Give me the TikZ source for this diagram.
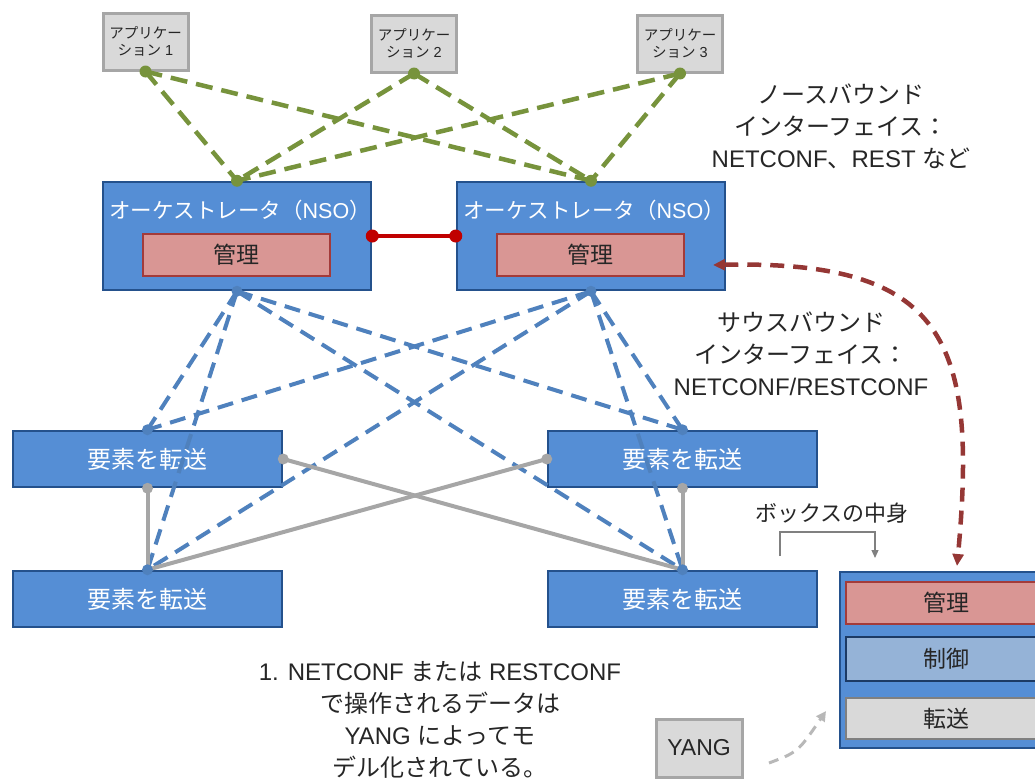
\documentclass[tikz,border=0pt]{standalone}
\usepackage{fontspec}
\setmainfont{Liberation Sans}
\newfontfamily\jpfont{Noto Sans CJK JP}
\newcommand{\ja}[1]{{\jpfont #1}}
\usetikzlibrary{arrows.meta}

\definecolor{boxblue}{HTML}{558ED5}
\definecolor{edgeblue}{HTML}{24518C}
\definecolor{linkblue}{HTML}{4F81BD}
\definecolor{appgreen}{HTML}{77933C}
\definecolor{mgmtfill}{HTML}{D99694}
\definecolor{mgmtedge}{HTML}{A33B3A}
\definecolor{ctrlfill}{HTML}{95B3D7}
\definecolor{ctrledge}{HTML}{1C3A64}
\definecolor{lightfill}{HTML}{D9D9D9}
\definecolor{lightedge}{HTML}{A6A6A6}
\definecolor{wiregray}{HTML}{A6A6A6}
\definecolor{linkred}{HTML}{C00000}
\definecolor{arcred}{HTML}{953735}
\definecolor{inkgray}{HTML}{262626}

\tikzset{
  appbox/.style={draw=lightedge,fill=lightfill,line width=3pt,minimum width=85,minimum height=57,
    inner sep=0,align=center,text=inkgray,font=\fontsize{14.5}{17}\selectfont},
  orchbox/.style={draw=edgeblue,fill=boxblue,line width=2.5pt,minimum width=268,minimum height=108,inner sep=0},
  orchtitle/.style={text=white,inner sep=0,font=\fontsize{21.5}{25}\selectfont},
  mgmtbox/.style={draw=mgmtedge,fill=mgmtfill,line width=2.5pt,minimum width=187,minimum height=42,
    inner sep=0,text=inkgray,font=\fontsize{23}{27}\selectfont},
  fwdbox/.style={draw=edgeblue,fill=boxblue,line width=2.5pt,minimum width=269,minimum height=56,
    inner sep=0,text=white,font=\fontsize{24}{28}\selectfont},
  layerbox/.style={line width=2.5pt,minimum width=200,inner sep=0,text=inkgray,font=\fontsize{23}{27}\selectfont},
  note/.style={align=center,inner sep=0,text=inkgray,font=\fontsize{24}{32}\selectfont},
  northlink/.style={appgreen,line width=4.5pt,dash pattern=on 17pt off 9pt},
  southlink/.style={linkblue,line width=4pt,dash pattern=on 16pt off 9pt},
  wire/.style={wiregray,line width=4pt},
  peerlink/.style={linkred,line width=4pt},
  arcarrow/.style={arcred,line width=4.5pt,dash pattern=on 14pt off 9pt,
    {Triangle[length=12pt,width=11pt]}-{Triangle[length=12pt,width=11pt]}},
}

\begin{document}
\begin{tikzpicture}[x=1pt,y=-1pt]
  \useasboundingbox (0,0) rectangle (1035,779);

  % applications
  \node[appbox] (app1) at (145.5,41.5) {\ja{アプリケー}\\\ja{ション} 1};
  \node[appbox] (app2) at (414,43.5) {\ja{アプリケー}\\\ja{ション} 2};
  \node[appbox] (app3) at (680,43.5) {\ja{アプリケー}\\\ja{ション} 3};

  % orchestrators
  \node[orchbox] (orchL) at (237,236) {};
  \node[orchbox] (orchR) at (591,236) {};
  \node[orchtitle] (titleL) at (240,210) {\ja{オーケストレータ（}NSO\ja{）}};
  \node[orchtitle] (titleR) at (594,210) {\ja{オーケストレータ（}NSO\ja{）}};
  \node[mgmtbox] (mgmtL) at (236.5,255) {\ja{管理}};
  \node[mgmtbox] (mgmtR) at (590.5,255) {\ja{管理}};

  % forwarding elements
  \node[fwdbox] (fwdTL) at (147.5,459) {\ja{要素を転送}};
  \node[fwdbox] (fwdTR) at (682.5,459) {\ja{要素を転送}};
  \node[fwdbox] (fwdBL) at (147.5,599) {\ja{要素を転送}};
  \node[fwdbox] (fwdBR) at (682.5,599) {\ja{要素を転送}};

  % box contents
  \node[draw=edgeblue,fill=boxblue,line width=2.5pt,minimum width=210,minimum height=176] (inside) at (945,660) {};
  \node[layerbox,draw=mgmtedge,fill=mgmtfill,minimum height=42] (layerM) at (946,603) {\ja{管理}};
  \node[layerbox,draw=ctrledge,fill=ctrlfill,minimum height=44] (layerC) at (946,659) {\ja{制御}};
  \node[layerbox,draw=gray,fill=lightfill,minimum height=41] (layerF) at (946,718.5) {\ja{転送}};
  \node[appbox,minimum width=86,minimum height=58,font=\fontsize{23}{27}\selectfont] (yang) at (699,748) {YANG};

  % texts
  \node[note] (northtxt) at (841,126) {\ja{ノースバウンド}\\\ja{インターフェイス：}\\NETCONF\ja{、}REST \ja{など}};
  \node[note] (southtxt) at (801,354) {\ja{サウスバウンド}\\\ja{インターフェイス：}\\NETCONF/RESTCONF};
  \node[note,font=\fontsize{22}{26}\selectfont] (boxtxt) at (832,513) {\ja{ボックスの中身}};
  \node[note] (yangtxt) at (440,720) {1. NETCONF \ja{または} RESTCONF\\\ja{で操作されるデータは}\\YANG \ja{によってモ}\\\ja{デル化されている。}};

  % northbound links
  \draw[northlink] (app1.south) -- (orchL.north);
  \draw[northlink] (app1.south) -- (orchR.north);
  \draw[northlink] (app2.south) -- (orchL.north);
  \draw[northlink] (app2.south) -- (orchR.north);
  \draw[northlink] (app3.south) -- (orchL.north);
  \draw[northlink] (app3.south) -- (orchR.north);

  % southbound links
  \draw[southlink] (orchL.south) -- (fwdTL.north);
  \draw[southlink] (orchL.south) -- (fwdTR.north);
  \draw[southlink] (orchL.south) -- (fwdBL.north);
  \draw[southlink] (orchL.south) -- (fwdBR.north);
  \draw[southlink] (orchR.south) -- (fwdTL.north);
  \draw[southlink] (orchR.south) -- (fwdTR.north);
  \draw[southlink] (orchR.south) -- (fwdBL.north);
  \draw[southlink] (orchR.south) -- (fwdBR.north);

  % element wiring
  \draw[wire] (fwdTL.south) -- (fwdBL.north);
  \draw[wire] (fwdTL.east) -- (fwdBR.north);
  \draw[wire] (fwdTR.west) -- (fwdBL.north);
  \draw[wire] (fwdTR.south) -- (fwdBR.north);

  % peer link
  \draw[peerlink] (orchL.east) -- (orchR.west);

  % dots
  \fill[appgreen] (app1.south) circle (6pt);
  \fill[appgreen] (app2.south) circle (6pt);
  \fill[appgreen] (app3.south) circle (6pt);
  \fill[appgreen] (orchL.north) circle (6pt);
  \fill[appgreen] (orchR.north) circle (6pt);
  \fill[linkblue] (orchL.south) circle (5.5pt);
  \fill[linkblue] (orchR.south) circle (5.5pt);
  \fill[linkblue] (fwdTL.north) circle (5.5pt);
  \fill[linkblue] (fwdTR.north) circle (5.5pt);
  \fill[linkblue] (fwdBL.north) circle (5.5pt);
  \fill[linkblue] (fwdBR.north) circle (5.5pt);
  \fill[wiregray] (fwdTL.south) circle (5.5pt);
  \fill[wiregray] (fwdTL.east) circle (5.5pt);
  \fill[wiregray] (fwdTR.west) circle (5.5pt);
  \fill[wiregray] (fwdTR.south) circle (5.5pt);
  \fill[linkred] (orchL.east) circle (6.5pt);
  \fill[linkred] (orchR.west) circle (6.5pt);

  % southbound arc
  \coordinate (arcstart) at (713,265);
  \coordinate (arcend) at (957,566);
  \draw[arcarrow] (arcstart) .. controls (945,260) and (978,340) .. (arcend);

  % bracket over box contents
  \coordinate (brleft) at (780,556);
  \coordinate (brright) at (875,558);
  \draw[gray,line width=1.2pt,-{Triangle[length=8pt,width=7pt]}] (brleft) -- (780,532) -- (875,532) -- (brright);

  % YANG arrow
  \coordinate (yangtail) at (769,763);
  \coordinate (yanghead) at (826,711);
  \draw[lightedge!80,line width=3pt,dash pattern=on 10pt off 7pt,-{Triangle[length=10pt,width=10pt]}]
    (yangtail) .. controls (798,752) .. (yanghead);
\end{tikzpicture}
\end{document}
